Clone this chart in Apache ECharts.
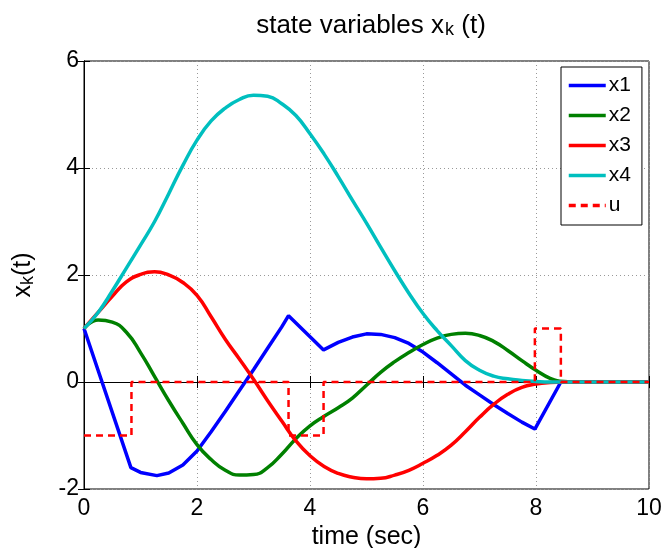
<!DOCTYPE html>
<html>
<head>
<meta charset="utf-8">
<script src="https://cdn.jsdelivr.net/npm/echarts@6/dist/echarts.min.js"></script>
<style>
  html, body { margin: 0; padding: 0; background: #fff; }
  #chart { width: 665px; height: 548px; }
</style>
</head>
<body>
<div id="chart"></div>
<script>
// common time grid for the smooth states (sec)
const time = [0, 0.25, 0.5, 0.75, 1, 1.25, 1.5, 1.75, 2, 2.25, 2.5, 2.75, 3, 3.25, 3.5, 3.75,
  4, 4.25, 4.5, 4.75, 5, 5.25, 5.5, 5.75, 6, 6.25, 6.5, 6.75, 7, 7.25, 7.5, 7.75,
  8, 8.25, 8.5, 8.75, 9, 9.25, 9.5, 9.75, 10];

const x2 = [1, 1.16, 1.12, 0.93, 0.55, 0.1, -0.35, -0.77, -1.17, -1.45, -1.65, -1.74, -1.73, -1.6, -1.35, -1.06,
  -0.82, -0.64, -0.48, -0.3, -0.06, 0.18, 0.38, 0.55, 0.7, 0.82, 0.89, 0.91, 0.87, 0.76, 0.59, 0.4,
  0.22, 0.07, 0.01, 0, 0, 0, 0, 0, 0];

const x3 = [1, 1.3, 1.6, 1.87, 2.01, 2.06, 2.0, 1.86, 1.62, 1.22, 0.8, 0.43, 0.05, -0.35, -0.73, -1.1,
  -1.38, -1.58, -1.71, -1.78, -1.81, -1.8, -1.74, -1.65, -1.52, -1.37, -1.18, -0.93, -0.66, -0.42, -0.23, -0.1,
  -0.04, -0.01, 0, 0, 0, 0, 0, 0, 0];

const x4 = [1, 1.3, 1.7, 2.13, 2.56, 3.0, 3.52, 4.05, 4.52, 4.88, 5.12, 5.28, 5.36, 5.34, 5.2, 4.98,
  4.64, 4.26, 3.84, 3.4, 2.97, 2.52, 2.08, 1.66, 1.28, 0.96, 0.68, 0.4, 0.22, 0.11, 0.06, 0.03,
  0.01, 0, 0, 0, 0, 0, 0, 0, 0];

// x1 has kinks where u switches, so it gets its own time points
const x1Time = [0, 0.83, 1, 1.29, 1.5, 1.75, 2, 2.25, 2.5, 2.75, 3, 3.25, 3.5, 3.62,
  4.24, 4.5, 4.75, 5, 5.25, 5.5, 5.75, 6, 6.25, 6.5, 6.75, 7, 7.25, 7.5, 7.75, 7.98, 8.44, 10];
const x1 = [1, -1.6, -1.69, -1.75, -1.7, -1.55, -1.29, -0.93, -0.55, -0.16, 0.23, 0.63, 1.03, 1.24,
  0.6, 0.74, 0.84, 0.9, 0.89, 0.83, 0.72, 0.56, 0.36, 0.15, -0.06, -0.24, -0.42, -0.59, -0.75, -0.88, 0, 0];

// control input: switching times and new value
const uTime = [0, 0.84, 3.62, 4.24, 7.98, 8.44, 10];
const u = [-1, 0, -1, 0, 1, 0, 0];

function pairs(ts, vs) {
  return ts.map(function (t, i) { return [t, vs[i]]; });
}

const chart = echarts.init(document.getElementById('chart'));
const font = 'Liberation Sans, Arial, Helvetica, sans-serif';

const option = {
  backgroundColor: '#fff',
  animation: false,
  title: {
    left: 366,
    textAlign: 'center',
    top: 8,
    text: '{a|state variables x}{sub|k}{a| (t)}',
    textStyle: {
      rich: {
        a: { fontFamily: font, fontSize: 26, fontWeight: 'normal', lineHeight: 26, color: '#000', verticalAlign: 'top' },
        sub: { fontFamily: font, fontSize: 18, fontWeight: 'normal', lineHeight: 18, color: '#000', padding: [11, 0, 0, 1], verticalAlign: 'bottom' }
      }
    }
  },
  grid: {
    left: 84, right: 16, top: 61, bottom: 59,
    outerBoundsMode: 'none',
    show: true, borderColor: '#000', borderWidth: 1, backgroundColor: '#fff'
  },
  legend: {
    orient: 'vertical',
    left: 561, top: 67,
    padding: [8, 11, 9, 6],
    itemWidth: 37, itemHeight: 14, itemGap: 9,
    itemStyle: { opacity: 0 },
    lineStyle: { width: 3.5 },
    backgroundColor: '#fff',
    borderColor: '#000', borderWidth: 1, borderRadius: 0,
    textStyle: { fontFamily: font, fontSize: 21, color: '#000', padding: [0, 0, 0, -2] },
    data: ['x1', 'x2', 'x3', 'x4', 'u']
  },
  xAxis: [{
    type: 'value', min: 0, max: 10, interval: 2,
    name: 'time (sec)', nameLocation: 'middle', nameGap: 34,
    nameTextStyle: { fontFamily: font, fontSize: 25, color: '#000' },
    axisLine: { lineStyle: { color: '#000', width: 1 } },
    axisTick: { inside: true, length: 6, lineStyle: { color: '#000' } },
    axisLabel: { fontFamily: font, fontSize: 23, color: '#000', margin: 8 },
    splitLine: { show: true, lineStyle: { color: '#999', type: [1, 3], width: 1 } }
  }, {
    type: 'value', min: 0, max: 10, interval: 2, position: 'top',
    axisLine: { lineStyle: { color: '#000' } },
    axisTick: { inside: true, length: 6, lineStyle: { color: '#000' } },
    axisLabel: { show: false }, splitLine: { show: false }
  }],
  yAxis: [{
    type: 'value', min: -2, max: 6, interval: 2,
    name: '{a|x}{sub|k}{a|(t)}', nameLocation: 'middle', nameGap: 47, nameRotate: 90,
    nameTextStyle: {
      rich: {
        a: { fontFamily: font, fontSize: 25, lineHeight: 26, color: '#000', verticalAlign: 'top' },
        sub: { fontFamily: font, fontSize: 18, lineHeight: 18, color: '#000', padding: [11, 0, 0, 0], verticalAlign: 'bottom' }
      }
    },
    axisLine: { lineStyle: { color: '#000', width: 1 } },
    axisTick: { inside: true, length: 6, lineStyle: { color: '#000' } },
    axisLabel: { fontFamily: font, fontSize: 23, color: '#000', margin: 5 },
    splitLine: { show: true, lineStyle: { color: '#999', type: [1, 3], width: 1 } }
  }, {
    type: 'value', min: -2, max: 6, interval: 2, position: 'right',
    axisLine: { show: true, lineStyle: { color: '#000' } },
    axisTick: { show: true, inside: true, length: 6, lineStyle: { color: '#000' } },
    axisLabel: { show: false }, splitLine: { show: false }
  }],
  series: [
    { name: 'x1', type: 'line', data: pairs(x1Time, x1), showSymbol: false, symbol: 'none',
      lineStyle: { color: '#0000ff', width: 3.5 }, itemStyle: { color: '#0000ff' }, z: 3 },
    { name: 'x2', type: 'line', data: pairs(time, x2), smooth: 0.5, showSymbol: false, symbol: 'none',
      lineStyle: { color: '#008000', width: 3.5 }, itemStyle: { color: '#008000' }, z: 3 },
    { name: 'x3', type: 'line', data: pairs(time, x3), smooth: 0.5, showSymbol: false, symbol: 'none',
      lineStyle: { color: '#ff0000', width: 3.5 }, itemStyle: { color: '#ff0000' }, z: 3 },
    { name: 'x4', type: 'line', data: pairs(time, x4), smooth: 0.5, showSymbol: false, symbol: 'none',
      lineStyle: { color: '#00bfbf', width: 3.5 }, itemStyle: { color: '#00bfbf' }, z: 3 },
    { name: 'u', type: 'line', data: pairs(uTime, u), step: 'end', showSymbol: false, symbol: 'none',
      lineStyle: { color: '#ff0000', width: 2.5, type: [7, 5] }, itemStyle: { color: '#ff0000' }, z: 4 }
  ]
};

chart.setOption(option);
</script>
</body>
</html>
